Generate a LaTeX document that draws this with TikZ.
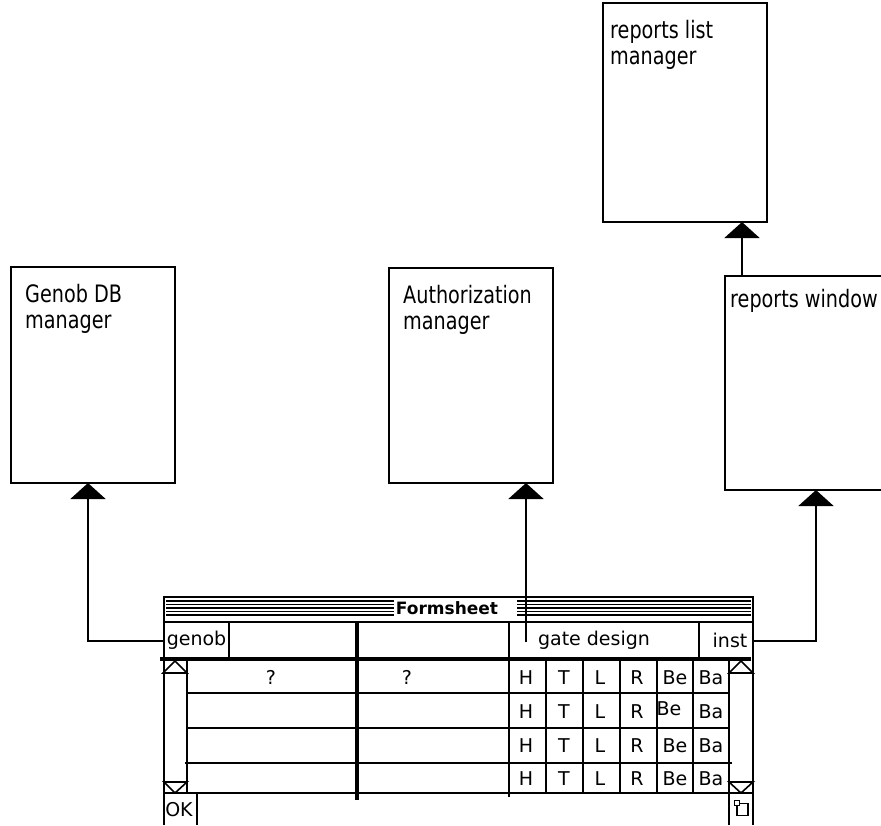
\documentclass[tikz,border=0pt]{standalone}
\usepackage{fontspec}
\setmainfont{DejaVu Sans}
\newfontfamily\boxfont[FakeStretch=0.8]{DejaVu Sans}
\usepackage{xcolor}
\usepackage{tikz}
\usetikzlibrary{arrows.meta,positioning,calc}
\definecolor{fsedge}{RGB}{0,0,0}
\tikzset{
  mgr/.style={
    draw=fsedge, line width=2pt, anchor=north west,
    inner sep=0pt, outer sep=0pt
  },
  mgrtxt/.style={
    anchor=north west, align=left, inner sep=0pt,
    font=\boxfont\fontsize{24}{26}\selectfont
  },
  arr/.style={-{Triangle[width=35pt,length=16pt]}, draw=fsedge, line width=2pt},
  fs/.style={draw=fsedge, line width=1.6pt},
  fsthick/.style={draw=fsedge, line width=3.4pt},
  stripe/.style={draw=fsedge, line width=1.8pt},
  cell/.style={inner sep=0pt, outer sep=0pt, font=\fontsize{19}{22}\selectfont},
  fstitle/.style={inner sep=0pt, font=\bfseries\fontsize{17}{18}\selectfont},
  scrl/.style={fs, fill=white}
}

\begin{document}
\begin{tikzpicture}[x=1pt,y=-1pt]
  \useasboundingbox (0,0) rectangle (881,825);
  \clip (0,0) rectangle (881,825);

  % managers
  \node[mgr, minimum width=164pt, minimum height=216pt] (gdb) at (11,267) {};
  \node[mgrtxt] (gdbtxt) at ($(gdb.north west)+(14,17)$) {Genob DB\\manager};
  \node[mgr, minimum width=164pt, minimum height=215pt] (auth) at (389,268) {};
  \node[mgrtxt] (authtxt) at ($(auth.north west)+(14,17)$) {Authorization\\manager};
  \node[mgr, minimum width=164pt, minimum height=219pt] (rlist) at (603,3) {};
  \node[mgrtxt] (rlisttxt) at ($(rlist.north west)+(7,17)$) {reports list\\manager};
  \node[mgr, minimum width=200pt, minimum height=214pt] (rwin) at (725,276) {};
  \node[mgrtxt] (rwintxt) at ($(rwin.north west)+(5,13)$) {reports window};

  % formsheet frame and title bar
  \draw[fs] (164,825) -- (164,597) -- (753,597) -- (753,825);
  \draw[fs] (164,622) -- (753,622);
  \foreach \y in {601,604.5,608,611.5,615} {
    \draw[stripe] (166,\y) -- (394,\y);
    \draw[stripe] (517,\y) -- (751,\y);
  }
  \node[fstitle] (title) at (447,608) {Formsheet};

  % header row
  \node[cell, minimum width=65pt, minimum height=37pt] (genob) at (196.5,640.5) {genob};
  \node[cell] (gate) at (594,640.5) {gate design};
  \node[cell, minimum width=54pt, minimum height=37pt] (inst) at (726,640.5) {\hspace{8pt}inst};
  \coordinate (gatetick) at (526,642);
  \draw[fs] (229,622) -- (229,659);
  \draw[fs] (699,622) -- (699,659);
  \draw[fsthick] (357,622) -- (357,800);
  \draw[fs] (509,622) -- (509,797);
  \draw[fsthick] (160,659) -- (751,659);

  % rows
  \foreach \y in {693,728} {
    \draw[fs] (187,\y) -- (729,\y);
  }
  \draw[fs, line width=2.2pt] (185,763) -- (732,763);
  \draw[fs] (164,793) -- (753,793);
  \foreach \x in {546,583,620,657,693} {
    \draw[fs] (\x,659) -- (\x,793);
  }
  \node[cell] (q1) at (271,677) {?};
  \node[cell] (q2) at (407,677) {?};
  \foreach \y/\bx/\by [count=\r] in {678/675/678, 712/669/709, 746/675/746, 779/675/779} {
    \foreach \t/\x in {H/526,T/564,L/600,R/637} {
      \node[cell] (c\r\t) at (\x,\y) {\t};
    }
    \node[cell] (c\r Be) at (\bx,\by) {Be};
    \node[cell] (c\r Ba) at (711,\y) {Ba};
  }

  % scroll bars
  \draw[fs] (187,659) -- (187,793);
  \draw[fs] (729,659) -- (729,825);
  \draw[scrl] (163,673) -- (175,661) -- (187,673) -- cycle;
  \draw[scrl] (164,782) -- (187,782) -- (175,793) -- cycle;
  \draw[scrl] (729,673) -- (741,661) -- (753,673) -- cycle;
  \draw[scrl] (729,782) -- (753,782) -- (741,793) -- cycle;

  % bottom bar
  \draw[fs] (197,793) -- (197,825);
  \node[cell] (ok) at (179,810) {OK};
  \draw[fs] (737,803.5) rectangle (748,815.5);
  \draw[scrl] (734.5,800.5) rectangle (739.5,805.5);

  % connectors
  \draw[arr] (genob.west) -| ($(gdb.south west)+(77,0)$);
  \draw[arr] (gatetick) -- (gatetick |- auth.south);
  \draw[arr] (inst.east) -| ($(rwin.south west)+(91,0)$);
  \draw[arr] ($(rwin.north west)+(17,0)$) -- ($(rlist.south west)+(139,0)$);
\end{tikzpicture}
\end{document}
